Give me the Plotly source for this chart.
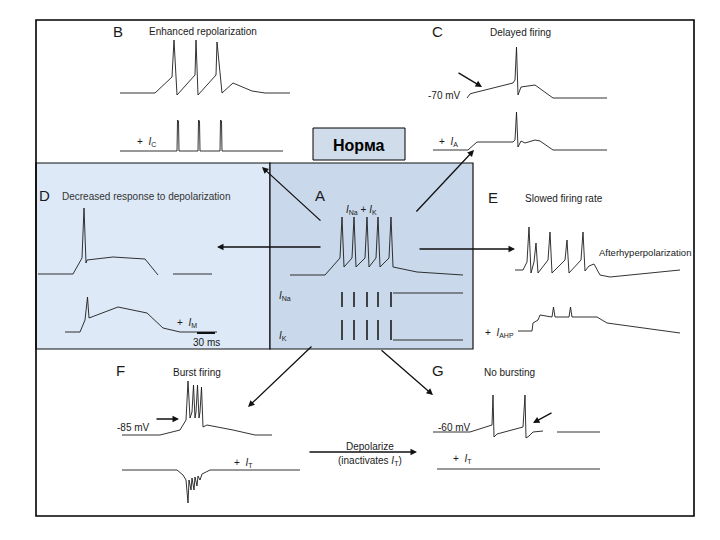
import plotly.graph_objects as go

# ---------------- data (chart units) ----------------
B_top_x = [120, 155, 172, 174, 177, 195, 196, 198, 216, 217, 222, 233, 252, 265, 290]
B_top_y = [93, 93, 77, 40, 95, 75, 40, 95, 75, 42, 93, 83, 91, 93, 93]
B_bot_x = [120, 177, 177.5, 178.5, 179, 198, 198.5, 199.5, 200, 220, 220.5, 221.5, 222, 283]
B_bot_y = [151, 151, 120, 121, 151, 151, 120, 121, 151, 151, 120, 121, 151, 151]

C_top_x = [467, 470, 473, 513, 515, 516.5, 518, 521, 535, 553, 607]
C_top_y = [98, 94, 93, 83, 80, 47, 95, 87, 85, 98, 98]
C_bot_x = [433, 468, 477, 513, 515, 516.5, 518, 521, 525, 535, 540, 553, 607]
C_bot_y = [150, 150, 142, 142, 140, 112, 147, 141, 143, 140, 141, 150, 150]

D_top_x = [38, 73, 82, 84, 86, 87, 113, 145, 158, None, 173, 212]
D_top_y = [274, 274, 258, 208, 263, 260, 257, 259, 275, None, 274, 274]
D_bot_x = [65, 80, 85, 87.5, 89, 118, 147, 163, 180, 217]
D_bot_y = [332, 332, 320, 297, 318, 307, 313, 328, 332, 332]

A_top_x = [290, 325, 340, 342, 344, 352, 354, 356, 365, 367, 369, 376, 378, 380,
           389, 391, 393, 417, 463]
A_top_y = [275, 275, 258, 217, 267, 258, 217, 267, 258, 217, 267, 258, 217, 267,
           258, 217, 267, 272, 275]
A_spike_x = [342, 354, 367, 378, 391]
INa_top, INa_bot = 292, 307
IK_top, IK_bot = 320, 340
A_base_x = [393, 463]

E_top_x = [515, 523, 527, 529, 531, 534, 536, 538, 548, 550, 552, 565, 567, 569,
           581, 583, 585, 589, 594, 600, 610, 680]
E_top_y = [270, 270, 262, 227, 273, 262, 243, 273, 260, 232, 273, 260, 240, 273,
           260, 232, 271, 266, 264, 275, 277, 270]
E_bot_x = [518, 532, 533, 538, 540, 552, 553.5, 555, 569, 570.5, 572, 597, 607, 680]
E_bot_y = [331, 331, 323, 320, 315, 317, 307, 317, 317, 307, 317, 317, 323, 333]

F_top_x = [122, 160, 180, 186, 188, 190, 192, 193.5, 195, 196, 197.5, 199, 200,
           201.5, 203, 207, 233, 255, 272]
F_top_y = [435, 435, 430, 420, 381, 418, 412, 385, 418, 412, 385, 418, 412,
           387, 427, 425, 430, 435, 435]
F_bot_x = [122, 177, 183, 186, 188, 189, 191, 192, 194, 195, 197, 198, 200, 202, 210, 300]
F_bot_y = [470, 470, 475, 480, 503, 480, 490, 478, 490, 477, 486, 476, 480, 474, 470, 470]

G_top_x = [433, 470, 492, 493, 494, 497, 523, 525, 526, 529, 533, 543, None, 557, 600]
G_top_y = [432, 432, 425, 395, 437, 434, 427, 395, 438, 436, 432, 431, None, 432, 432]
G_bot_x = [437, 600]
G_bot_y = [469, 469]

LINE = "#1c1c1c"
FONT = "Liberation Sans, Arial, sans-serif"

fig = go.Figure()


def add_line(xs, ys, width=1.0, color=LINE):
    fig.add_trace(go.Scatter(x=xs, y=ys, mode="lines",
                             line=dict(color=color, width=width),
                             hoverinfo="skip", showlegend=False,
                             connectgaps=False))


for xs, ys in [(B_top_x, B_top_y), (B_bot_x, B_bot_y), (C_top_x, C_top_y),
               (C_bot_x, C_bot_y), (D_top_x, D_top_y), (D_bot_x, D_bot_y),
               (A_top_x, A_top_y), (E_top_x, E_top_y), (E_bot_x, E_bot_y),
               (F_top_x, F_top_y), (F_bot_x, F_bot_y), (G_top_x, G_top_y),
               (G_bot_x, G_bot_y)]:
    add_line(xs, ys, width=0.9)

# Current traces of panel A
na_x, na_y, k_x, k_y = [], [], [], []
for s in A_spike_x:
    na_x += [s, s, None]
    na_y += [INa_top, INa_bot, None]
    k_x += [s, s, None]
    k_y += [IK_bot, IK_top, None]
add_line(na_x, na_y, width=1.6)
add_line(k_x, k_y, width=1.6)
add_line(A_base_x, [INa_top + 1, INa_top + 1], width=0.9)
add_line(A_base_x, [IK_bot, IK_bot], width=0.9)

shapes = [
    dict(type="rect", x0=36, y0=163, x1=270, y1=349, fillcolor="#dde9f6",
         line=dict(color="#111", width=1.2), layer="below"),
    dict(type="rect", x0=270, y0=163, x1=473, y1=349, fillcolor="#c9d8ea",
         line=dict(color="#111", width=1.2), layer="below"),
    dict(type="rect", x0=36, y0=20, x1=694, y1=516, fillcolor="rgba(0,0,0,0)",
         line=dict(color="#000", width=1.6), layer="above"),
    dict(type="rect", x0=313, y0=128, x1=405, y1=160, fillcolor="#d0dcea",
         line=dict(color="#000", width=1), layer="above"),
    # 30 ms scale bar
    dict(type="line", x0=197, y0=333, x1=215, y1=333,
         line=dict(color="#111", width=2)),
]

ann = []


def txt(x, y, s, size=10, anchor="left", color="#1a1a1a", bold=False):
    if bold:
        s = "<b>" + s + "</b>"
    ann.append(dict(x=x, y=y, text=s, showarrow=False, xanchor=anchor,
                    yanchor="middle", font=dict(family=FONT, size=size, color=color)))


def arrow(x0, y0, x1, y1, width=1.3):
    ann.append(dict(x=x1, y=y1, ax=x0, ay=y0, xref="x", yref="y", axref="x",
                    ayref="y", text="", showarrow=True, arrowhead=2,
                    arrowsize=1, arrowwidth=width, arrowcolor="#111"))


# panel letters and titles
txt(111, 31, "B", 15)
txt(147, 31, "Enhanced repolarization")
txt(430, 31, "C", 15)
txt(488, 32, "Delayed firing")
txt(37, 195, "D", 15)
txt(60, 196, "Decreased response to depolarization", color="#333")
txt(313, 195, "A", 15)
txt(486, 197, "E", 15)
txt(523, 198, "Slowed firing rate")
txt(114, 370, "F", 15)
txt(171, 372, "Burst firing")
txt(430, 370, "G", 15)
txt(482, 372, "No bursting")
txt(359, 145, "Норма", 16, anchor="center", color="#000", bold=True)

# trace labels
txt(135, 142, "+  <i>I</i><sub>C</sub>")
txt(426, 95, "-70 mV")
txt(437, 142, "+  <i>I</i><sub>A</sub>")
txt(175, 323, "+  <i>I</i><sub>M</sub>")
txt(206, 342, "30 ms", anchor="center")
txt(344, 210, "<i>I</i><sub>Na</sub> + <i>I</i><sub>K</sub>")
txt(277, 296, "<i>I</i><sub>Na</sub>")
txt(277, 336, "<i>I</i><sub>K</sub>")
txt(597, 252, "Afterhyperpolarization", size=9.5)
txt(483, 333, "+  <i>I</i><sub>AHP</sub>")
txt(115, 427, "-85 mV")
txt(232, 463, "+  <i>I</i><sub>T</sub>")
txt(436, 427, "-60 mV")
txt(451, 459, "+  <i>I</i><sub>T</sub>")
txt(370, 446, "Depolarize", anchor="center")
txt(370, 461, "(inactivates <i>I</i><sub>T</sub>)", anchor="center")

# arrows
arrow(322, 247, 217, 247)          # A -> D
arrow(322, 222, 262, 167)          # A -> B
arrow(415, 213, 474, 150)          # A -> C
arrow(418, 249, 515, 249)          # A -> E
arrow(313, 345, 248, 407)          # A -> F
arrow(380, 349, 433, 395)          # A -> G
arrow(308, 452, 417, 452)          # depolarize
arrow(457, 72, 482, 87)            # C -70 mV
arrow(155, 419, 179, 419)          # F -85 mV
arrow(553, 412, 533, 423)          # G

# the page body adds an 8 px margin; the axis ranges absorb it
fig.update_layout(
    width=720, height=540,
    margin=dict(l=0, r=0, t=0, b=0, pad=0, autoexpand=False),
    paper_bgcolor="white", plot_bgcolor="white",
    xaxis=dict(range=[8, 728], visible=False, fixedrange=True),
    yaxis=dict(range=[548, 8], visible=False, fixedrange=True),
    shapes=shapes, annotations=ann, showlegend=False,
)

fig.write_html("out.html")
